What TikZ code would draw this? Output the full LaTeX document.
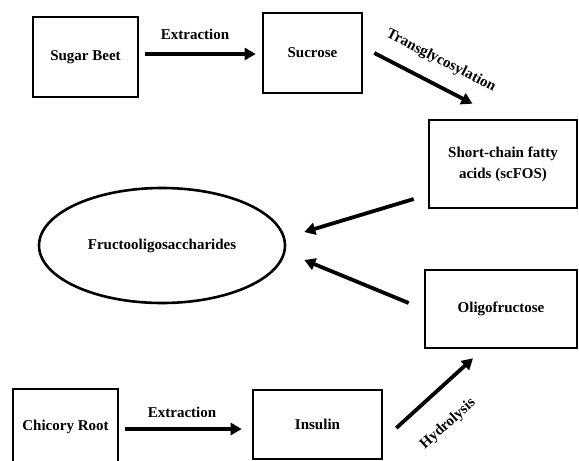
\documentclass[tikz,border=0pt]{standalone}
\usepackage{fontspec}
\setmainfont{Liberation Serif}
\usetikzlibrary{shapes.geometric,arrows.meta,calc}
\begin{document}
\begin{tikzpicture}[x=1pt,y=-1pt,
  box/.style={draw, line width=2.6pt, inner sep=0pt, font=\fontsize{15}{21}\selectfont\bfseries, align=center},
  lbl/.style={font=\fontsize{15}{18}\selectfont\bfseries, inner sep=0pt},
  arr/.style={line width=3.8pt, -{Triangle[length=11pt,width=12pt]}}]
\clip (0,0) rectangle (579,461);
\fill[white] (0,0) rectangle (579,461);
\node[box, minimum width=105pt, minimum height=80pt] (sb) at (85.5,57) {Sugar Beet};
\node[box, minimum width=99pt, minimum height=80pt] (suc) at (312.5,53) {Sucrose};
\node[box, minimum width=148pt, minimum height=88pt] (scf) at (503,164) {Short-chain fatty\\acids (scFOS)};
\node[box, ellipse, minimum width=246pt, minimum height=115pt] (fos) at (162,245.5) {Fructooligosaccharides};
\node[box, minimum width=152pt, minimum height=78pt] (oli) at (501,309) {Oligofructose};
\node[box, minimum width=105pt, minimum height=76pt] (chic) at (65.5,427) {Chicory Root};
\node[box, minimum width=129pt, minimum height=69pt] (ins) at (317.5,424.5) {Insulin};

\draw[arr] ($(sb.east)+(6,-3)$) -- ($(suc.west)+(-6,1)$);
\draw[arr] ($(suc.east)+(11,0)$) -- ($(scf.north)+(-30.5,-15)$);
\draw[arr] ($(scf.west)+(-14,35)$) -- ($(fos.east)+(18,-13.5)$);
\draw[arr] ($(oli.west)+(-15,-6)$) -- ($(fos.east)+(18,14.5)$);
\draw[arr] ($(chic.east)+(6,2)$) -- ($(ins.west)+(-10,4.5)$);
\draw[arr] ($(ins.east)+(13,3.5)$) -- ($(oli.south)+(-28,9)$);

\node[lbl] (l1) at (195,34) {Extraction};
\node[lbl, rotate=-27] (l2) at (441,61) {Transglycosylation};
\node[lbl] (l3) at (182,412) {Extraction};
\node[lbl, rotate=42] (l4) at (448,424) {Hydrolysis};
\end{tikzpicture}
\end{document}
